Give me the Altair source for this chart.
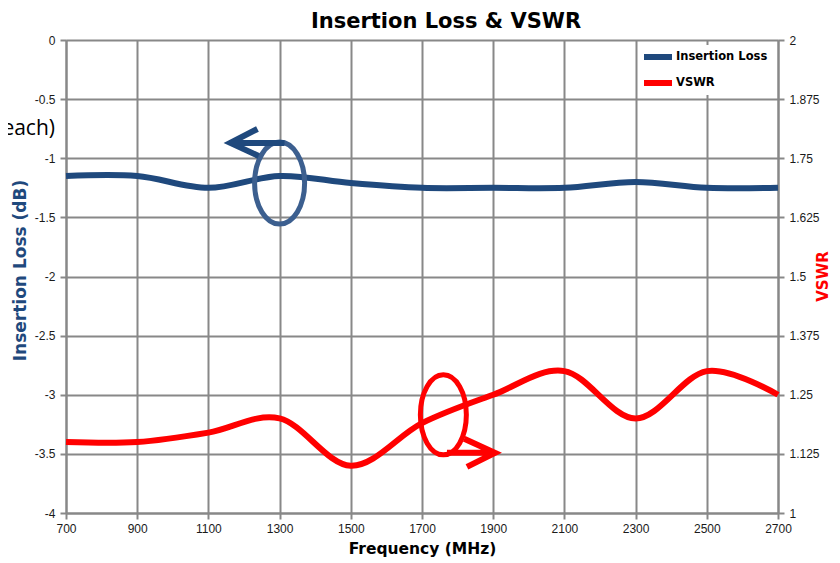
import altair as alt
import pandas as pd

# ---------------- data ----------------
freq = [700, 900, 1100, 1300, 1500, 1700, 1900, 2100, 2300, 2500, 2700]
insertion_loss = [-1.15, -1.15, -1.25, -1.15, -1.21, -1.25, -1.25, -1.25, -1.20, -1.25, -1.25]
vswr = [1.15, 1.15, 1.17, 1.20, 1.10, 1.19, 1.25, 1.30, 1.20, 1.30, 1.25]

series_names = ["Insertion Loss", "VSWR"]
x_ticks = [700, 900, 1100, 1300, 1500, 1700, 1900, 2100, 2300, 2500, 2700]
il_ticks = [-4, -3.5, -3, -2.5, -2, -1.5, -1, -0.5, 0]
vswr_ticks = [1, 1.125, 1.25, 1.375, 1.5, 1.625, 1.75, 1.875, 2]

# annotation anchors (frequency, dB on the left scale)
il_note_freq = [1300]
il_note_db = [-1.21]
vswr_note_freq = [1760]
vswr_note_db = [-3.17]
stray_text = ["each)"]

# ---------------- styling ----------------
BLUE = "#1f497d"
BLUE_NOTE = "#3c5f8f"
RED = "#ff0000"
GRID = "#888888"

il_df = pd.DataFrame({"freq": freq, "il": insertion_loss, "series": series_names[0]})
vswr_df = pd.DataFrame({"freq": freq, "vswr": vswr, "series": series_names[1]})
il_note_df = pd.DataFrame({"freq": il_note_freq, "il": il_note_db})
vswr_note_df = pd.DataFrame({"freq": vswr_note_freq, "il": vswr_note_db})
text_df = pd.DataFrame({"label": stray_text})

x_enc = alt.X(
    "freq:Q",
    scale=alt.Scale(domain=[700, 2700], nice=False, zero=False),
    axis=alt.Axis(values=x_ticks, title="Frequency (MHz)", grid=True,
                  labelExpr="'' + datum.value", labelPadding=4, labelFlush=False,
                  titleY=35, titleBaseline="middle", titleFontSize=15.5),
)

y_il = alt.Y(
    "il:Q",
    scale=alt.Scale(domain=[-4, 0], nice=False, zero=False),
    axis=alt.Axis(values=il_ticks, title="Insertion Loss (dB)", grid=True,
                  titleColor=BLUE, labelExpr="'' + datum.value", labelPadding=5,
                  labelFlush=False, titleFontSize=17,
                  titleX=-46, titleY=230, titleAngle=270, titleBaseline="middle"),
)

y_vswr = alt.Y(
    "vswr:Q",
    scale=alt.Scale(domain=[1, 2], nice=False, zero=False),
    axis=alt.Axis(values=vswr_ticks, title="VSWR", grid=False, orient="right",
                  titleColor=RED, labelExpr="'' + datum.value", labelPadding=5,
                  labelFlush=False,
                  titleX=44, titleY=236, titleAngle=270, titleBaseline="middle"),
)

LEGEND_LINE = "M -1.1667,0 L 1.1667,0"

color_enc = alt.Color(
    "series:N",
    scale=alt.Scale(domain=series_names, range=[BLUE, RED]),
    legend=alt.Legend(
        title=None, orient="none", legendX=577, legendY=5,
        fillColor="white", padding=0, symbolType=LEGEND_LINE, symbolSize=576,
        symbolStrokeWidth=6, labelFont="DejaVu Sans", labelFontWeight="bold",
        labelFontSize=11.5, labelColor="black", labelOffset=3, rowPadding=2,
        clipHeight=24,
    ),
)

il_line = alt.Chart(il_df).mark_line(
    strokeWidth=6, interpolate="cardinal", tension=0
).encode(x=x_enc, y=y_il, color=color_enc)

vswr_line = alt.Chart(vswr_df).mark_line(
    strokeWidth=6, interpolate="cardinal", tension=0
).encode(x=x_enc, y=y_vswr, color=color_enc)

# annotation shapes (unit = sqrt(size)/2 pixels)
BLUE_ELLIPSE = "M -0.61,0 A 0.61,1 0 1,1 0.61,0 A 0.61,1 0 1,1 -0.61,0 Z"
BLUE_ARROW = "M 0.12,-0.98 L -1.2,-0.98 M -0.54,-1.32 L -1.2,-0.98 L -0.51,-0.66"
RED_ELLIPSE = "M -0.575,0 A 0.575,1 0 1,1 0.575,0 A 0.575,1 0 1,1 -0.575,0 Z"
RED_ARROW = "M 0.09,0.95 L 1.29,0.95 M 0.52,0.6 L 1.29,0.95 L 0.59,1.3"

il_ellipse = alt.Chart(il_note_df).mark_point(
    shape=BLUE_ELLIPSE, filled=False, size=6724, strokeWidth=5,
    color=BLUE_NOTE, opacity=1,
).encode(x=x_enc, y=y_il)
il_arrow = alt.Chart(il_note_df).mark_point(
    shape=BLUE_ARROW, filled=False, size=6724, strokeWidth=6,
    color=BLUE, opacity=1,
).encode(x=x_enc, y=y_il)
vswr_ellipse = alt.Chart(vswr_note_df).mark_point(
    shape=RED_ELLIPSE, filled=False, size=6400, strokeWidth=5,
    color=RED, opacity=1,
).encode(x=x_enc, y=y_il)
vswr_arrow = alt.Chart(vswr_note_df).mark_point(
    shape=RED_ARROW, filled=False, size=6400, strokeWidth=6,
    color=RED, opacity=1,
).encode(x=x_enc, y=y_il)

stray = alt.Chart(text_df).mark_text(
    align="right", baseline="middle", font="Open Sans", fontSize=21, color="black"
).encode(text="label:N", x=alt.value(-11), y=alt.value(89))

left = alt.layer(il_line, il_ellipse, il_arrow, vswr_ellipse, vswr_arrow, stray)
right = alt.layer(vswr_line)

chart = (
    alt.layer(left, right)
    .resolve_scale(y="independent")
    .properties(
        width=712, height=473,
        title=alt.TitleParams(
            "Insertion Loss & VSWR", font="DejaVu Sans", fontSize=21,
            fontWeight="bold", color="black", dx=24, offset=-15,
            baseline="alphabetic", anchor="middle",
        ),
        autosize=alt.AutoSizeParams(type="none"),
        padding={"left": 58, "top": 32, "right": 54, "bottom": 46},
    )
    .configure_view(stroke=None)
    .configure_axis(
        labelFont="Liberation Sans", labelFontSize=12, labelColor="#1a1a1a",
        titleFont="DejaVu Sans", titleFontSize=15, titleFontWeight="bold",
        gridColor=GRID, gridWidth=2, gridOpacity=1,
        domainColor=GRID, domainWidth=2,
        tickColor=GRID, tickWidth=2, tickSize=6,
    )
    .configure_axisX(titleColor="black")
)

chart.save("out.html", embed_options={"renderer": "svg", "actions": False})
